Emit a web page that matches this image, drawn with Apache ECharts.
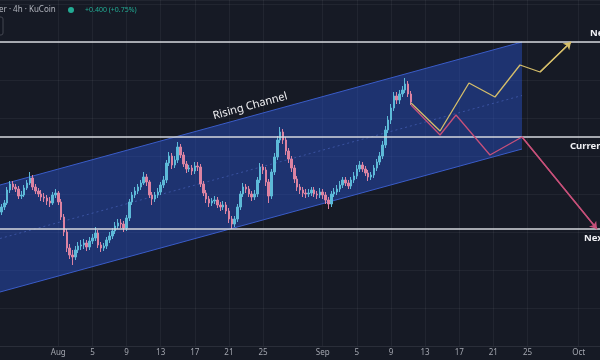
<!DOCTYPE html>
<html><head><meta charset="utf-8">
<script src="https://cdn.jsdelivr.net/npm/echarts@6/dist/echarts.min.js"></script>
<style>html,body{margin:0;padding:0;background:#161a25;}#c{width:600px;height:360px;}</style>
</head><body><div id="c"></div>
<script>
function pad(n){return (n<10?'0':'')+n;}
// 8-hour slots, first slot 25 Jul 08:00
const slotStart = Date.UTC(2024, 6, 25, 8);
const slotCount = 211;
const categories = [];
for (let i = 0; i < slotCount; i++) {
  const t = new Date(slotStart + i * 8 * 3600e3);
  categories.push(pad(t.getUTCMonth() + 1) + '-' + pad(t.getUTCDate()) + ' ' + pad(t.getUTCHours()));
}
// day axis (days since 1 Aug 00:00) spanning the same pixels as the category axis
const dayMin = -20.5 / 3;
const dayMax = (slotCount - 20.5) / 3;

const tickKeys = ['08-01 00','08-05 00','08-09 00','08-13 00','08-17 00','08-21 00','08-25 00',
                  '09-01 00','09-05 00','09-09 00','09-13 00','09-17 00','09-21 00','09-25 00','10-01 00'];
const tickLabels = ['Aug','5','9','13','17','21','25','Sep','5','9','13','17','21','25','Oct'];

// [open, close, low, high]
const candles = [
[47.6,48.1,47.3,48.4],[48.1,48.5,47.8,48.8],[48.5,49.8,48.3,50.1],[49.8,50.4,49.5,50.7],[50.4,50.1,49.8,50.7],
[50.1,49.9,49.6,50.4],[49.9,49.2,48.9,50.2],[49.2,49.3,48.9,49.7],[49.3,50.0,49.1,50.3],[50.0,50.5,49.8,50.8],
[50.5,51.0,50.3,51.6],[51.0,50.1,49.8,51.3],[50.1,49.7,49.4,50.4],[49.7,49.4,49.1,50.0],[49.4,49.1,48.7,49.8],
[49.1,49.0,48.6,49.5],[49.0,48.7,48.3,49.3],[48.7,48.5,48.1,49.1],[48.5,49.3,48.3,49.6],[49.3,49.5,49.0,49.9],
[49.5,48.6,48.3,49.7],[48.6,47.1,46.8,48.9],[47.1,45.6,45.2,47.4],[45.6,44.0,43.6,45.9],[44.0,43.3,42.9,44.4],
[43.3,43.1,42.3,43.8],[43.1,43.8,42.8,44.2],[43.8,44.2,43.5,44.6],[44.2,44.3,43.8,44.8],[44.3,44.5,43.9,44.9],
[44.5,44.1,43.7,44.8],[44.1,44.7,43.8,45.1],[44.7,45.0,44.4,45.4],[45.0,45.5,44.7,46.1],[45.5,44.3,44.0,45.8],
[44.3,44.0,43.6,44.6],[44.0,44.2,43.7,44.5],[44.2,44.8,43.9,45.1],[44.8,45.2,44.5,45.6],[45.2,45.7,44.9,46.0],
[45.7,46.2,45.4,46.6],[46.2,46.5,45.9,46.9],[46.5,46.4,46.0,46.9],[46.4,46.0,45.6,46.7],[46.0,47.0,45.7,47.3],
[47.0,48.6,46.7,48.9],[48.6,49.3,48.3,49.6],[49.3,49.7,49.0,50.1],[49.7,50.1,49.4,50.4],[50.1,50.5,49.8,50.8],
[50.5,51.1,50.3,51.6],[51.1,50.6,50.2,51.4],[50.6,49.3,49.0,50.8],[49.3,48.9,48.3,49.6],[48.9,49.3,48.6,49.6],
[49.3,49.6,49.0,50.0],[49.6,50.3,49.3,50.6],[50.3,50.8,50.0,51.2],[50.8,52.5,50.5,52.8],[52.5,53.2,52.2,53.6],
[53.2,52.3,51.9,53.5],[52.3,52.8,52.0,53.2],[52.8,54.1,52.5,54.6],[54.1,53.3,53.0,54.4],[53.3,52.4,52.1,53.6],
[52.4,51.9,51.5,52.7],[51.9,52.0,51.6,52.3],[52.0,51.7,51.3,52.3],[51.7,52.2,51.4,52.6],[52.2,52.1,51.7,52.6],
[52.1,50.4,50.1,52.4],[50.4,49.5,49.2,50.7],[49.5,48.9,48.5,49.8],[48.9,48.5,48.1,49.2],[48.5,48.7,48.2,49.0],
[48.7,48.8,48.4,49.2],[48.8,48.3,48.0,49.1],[48.3,48.1,47.7,48.6],[48.1,48.3,47.8,48.7],[48.3,47.7,47.4,48.6],
[47.7,46.9,46.5,48.0],[46.9,46.4,45.9,47.2],[46.4,46.9,46.1,47.2],[46.9,48.1,46.6,48.4],[48.1,49.4,47.8,49.7],
[49.4,50.1,49.1,50.5],[50.1,49.9,49.5,50.4],[49.9,49.4,49.1,50.2],[49.4,49.1,48.7,49.7],[49.1,49.4,48.8,49.8],
[49.4,50.8,49.1,51.1],[50.8,52.1,50.5,52.5],[52.1,51.8,51.4,52.4],[51.8,50.6,50.2,52.1],[50.6,49.2,48.5,50.9],
[49.2,51.6,48.9,51.9],[51.6,53.1,51.3,53.5],[53.1,54.8,52.8,55.2],[54.8,55.6,54.5,56.1],[55.6,54.8,54.4,55.9],
[54.8,53.7,53.3,55.1],[53.7,52.9,52.5,54.0],[52.9,52.0,51.6,53.2],[52.0,50.9,50.5,52.3],[50.9,50.1,49.7,51.2],
[50.1,49.8,49.4,50.4],[49.8,49.5,49.1,50.1],[49.5,49.4,49.0,49.9],[49.4,49.5,49.1,49.9],[49.5,49.8,49.2,50.1],
[49.8,49.4,49.1,50.1],[49.4,49.3,48.9,49.7],[49.3,49.6,49.0,50.0],[49.6,49.3,48.9,49.9],[49.3,48.8,48.4,49.6],
[48.8,48.4,47.9,49.1],[48.4,49.4,48.1,49.7],[49.4,49.6,49.1,50.0],[49.6,49.9,49.3,50.3],[49.9,50.3,49.6,50.7],
[50.3,50.8,50.0,51.1],[50.8,50.5,50.2,51.1],[50.5,50.2,49.9,50.8],[50.2,50.8,49.9,51.1],[50.8,51.2,50.5,51.6],
[51.2,51.9,50.9,52.3],[51.9,52.3,51.6,52.7],[52.3,51.9,51.6,52.6],[51.9,51.5,51.2,52.2],[51.5,51.1,50.7,51.8],
[51.1,51.3,50.8,51.6],[51.3,52.0,51.0,52.3],[52.0,52.6,51.7,52.9],[52.6,53.2,52.3,53.6],[53.2,54.3,52.9,54.7],
[54.3,55.8,54.0,56.2],[55.8,56.8,55.5,57.2],[56.8,58.0,56.4,58.4],[58.0,59.2,57.7,59.6],[59.2,58.8,58.4,59.6],
[58.8,59.4,58.4,59.8],[59.4,59.8,59.1,60.2],[59.8,60.4,59.5,61.0],[60.4,59.4,59.1,60.7],[59.4,58.6,58.3,59.7]
];

// channel corners [day, price]
const channelTop = [[dayMin, 50.3], [54.36, 64.6]];
const channelBottom = [[dayMin, 39.6], [54.36, 53.9]];
const channelMid = [[dayMin, 44.95], [54.36, 59.25]];
const channelLabel = 'Rising Channel';
const channelLabelDay = 22.8;

const levelPrices = [64.6, 55.1, 45.9];
const levelNames = ['Next Resistance', 'Current Support', 'Next Support'];

const bullPath = [[41.35,58.5],[44.75,55.7],[48.14,60.5],[51.19,59.1],[54.12,62.3],[56.47,61.6],[60.1,64.6]];
const bearPath = [[41.35,58.3],[44.75,55.3],[46.62,57.3],[50.6,53.3],[54.36,55.1],[63.15,45.9]];

const FONT = '"Noto Sans", "DejaVu Sans", sans-serif';
const labelInset = [10, 30, 16];
const labelShift = [-9, 9, 9];
const labelOf = {};
tickKeys.forEach((k, i) => { labelOf[k] = tickLabels[i]; });
const isTick = (i, v) => labelOf[v] !== undefined;

const chart = echarts.init(document.getElementById('c'));
chart.setOption({
  backgroundColor: '#161a25',
  animation: false,
  grid: { left: 0, right: 0, top: 0, bottom: 14 },
  xAxis: [
    { type: 'category', data: categories, boundaryGap: true,
      axisLine: { show: true, lineStyle: { color: '#2a2e39' } },
      axisTick: { show: false },
      axisLabel: { interval: isTick, formatter: v => labelOf[v] || '', color: '#a3a6af',
                   fontSize: 8, margin: 3, fontFamily: FONT, hideOverlap: false },
      splitLine: { show: true, interval: isTick, alignWithLabel: true,
                   lineStyle: { color: 'rgba(255,255,255,0.05)', width: 1 } } },
    { type: 'value', min: dayMin, max: dayMax, show: false, splitLine: { show: false } }
  ],
  yAxis: { type: 'value', min: 34.2, max: 68.8, interval: 3.8,
           axisLabel: { show: false }, axisLine: { show: false }, axisTick: { show: false },
           splitLine: { lineStyle: { color: 'rgba(255,255,255,0.05)' } } },
  series: [
    { type: 'custom', xAxisIndex: 1, z: 1, silent: true, clip: true,
      data: [[channelTop[0][0], channelTop[0][1]]],
      renderItem: function (params, api) {
        const tl = api.coord(channelTop[0]), tr = api.coord(channelTop[1]);
        const bl = api.coord(channelBottom[0]), br = api.coord(channelBottom[1]);
        const ml = api.coord(channelMid[0]), mr = api.coord(channelMid[1]);
        const ang = Math.atan2(tl[1] - tr[1], tr[0] - tl[0]);
        const t = (channelLabelDay - channelTop[0][0]) / (channelTop[1][0] - channelTop[0][0]);
        const px = tl[0] + (tr[0] - tl[0]) * t, py = tl[1] + (tr[1] - tl[1]) * t;
        return { type: 'group', children: [
          { type: 'polygon', shape: { points: [tl, tr, br, bl] }, style: { fill: 'rgba(41,82,205,0.45)' } },
          { type: 'line', shape: { x1: tl[0], y1: tl[1], x2: tr[0], y2: tr[1] }, style: { stroke: '#3a5cc8', lineWidth: 1 } },
          { type: 'line', shape: { x1: bl[0], y1: bl[1], x2: br[0], y2: br[1] }, style: { stroke: '#3a5cc8', lineWidth: 1 } },
          { type: 'line', shape: { x1: ml[0], y1: ml[1], x2: mr[0], y2: mr[1] }, style: { stroke: 'rgba(90,120,220,0.45)', lineWidth: 1, lineDash: [2, 3] } },
          { type: 'text', x: px - Math.sin(ang) * 10, y: py - Math.cos(ang) * 10, rotation: ang,
            style: { text: channelLabel, fill: '#f2f2f5', font: '11px ' + FONT, align: 'center', verticalAlign: 'middle' } }
        ] };
      } },
    { type: 'candlestick', xAxisIndex: 0, yAxisIndex: 0, z: 3, data: candles, barWidth: 2,
      itemStyle: { color: '#5dbad8', color0: '#dc83a2', borderColor: '#5dbad8', borderColor0: '#dc83a2', borderWidth: 1 } },
    { type: 'custom', xAxisIndex: 1, z: 4, silent: true, clip: false,
      data: levelPrices.map((p, i) => [0, p, i]),
      renderItem: function (params, api) {
        const cs = params.coordSys;
        const y = Math.round(api.coord([0, api.value(1)])[1]);
        const i = api.value(2);
        return { type: 'group', children: [
          { type: 'line', shape: { x1: cs.x, y1: y, x2: cs.x + cs.width, y2: y }, style: { stroke: '#d6d8de', lineWidth: 1.6 } },
          { type: 'text', x: cs.x + cs.width - labelInset[i], y: y + labelShift[i],
            style: { text: levelNames[i], fill: '#f0f0f4', font: 'bold 9.5px ' + FONT, align: 'left', verticalAlign: 'middle' } }
        ] };
      } },
    { type: 'line', xAxisIndex: 1, z: 5, data: bullPath, showSymbol: false, silent: true,
      lineStyle: { color: '#d4bd6a', width: 1.3 },
      markLine: { silent: true, symbol: ['none', 'arrow'], symbolSize: 7, label: { show: false },
        lineStyle: { color: '#d4bd6a', width: 1.3, type: 'solid' },
        data: [[{ coord: bullPath[bullPath.length - 2] }, { coord: bullPath[bullPath.length - 1] }]] } },
    { type: 'line', xAxisIndex: 1, z: 5, data: bearPath, showSymbol: false, silent: true,
      lineStyle: { color: '#c7507a', width: 1.3 },
      markLine: { silent: true, symbol: ['none', 'arrow'], symbolSize: 7, label: { show: false },
        lineStyle: { color: '#c7507a', width: 1.3, type: 'solid' },
        data: [[{ coord: bearPath[bearPath.length - 2] }, { coord: bearPath[bearPath.length - 1] }]] } }
  ],
  graphic: [
    { type: 'text', x: -1, y: 10, style: { text: 'er · 4h · KuCoin', fill: '#b2b5be', font: '8px ' + FONT, verticalAlign: 'middle' } },
    { type: 'circle', shape: { cx: 71, cy: 10, r: 3 }, style: { fill: '#22ab94' } },
    { type: 'text', x: 85, y: 10, style: { text: '+0.400 (+0.75%)', fill: '#22ab94', font: '7px ' + FONT, verticalAlign: 'middle' } },
    { type: 'rect', shape: { x: -4, y: 17, width: 7, height: 18, r: 2 }, style: { fill: '#131722', stroke: '#434651', lineWidth: 1 } }
  ]
});
</script>
</body></html>
